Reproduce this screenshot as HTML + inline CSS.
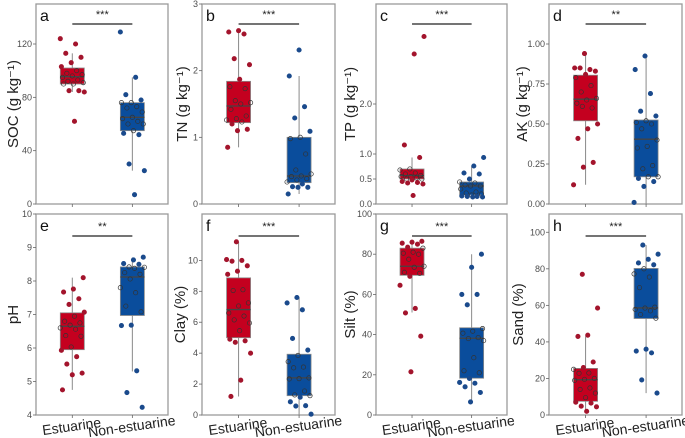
<!DOCTYPE html>
<html><head><meta charset="utf-8"><style>
html,body{margin:0;padding:0;background:#fff}
svg{display:block;font-family:"Liberation Sans",sans-serif}
</style></head><body>
<svg id="chart" width="685" height="438" viewBox="0 0 685 438" xmlns="http://www.w3.org/2000/svg"></svg>
<script>
const categories = ["Estuarine","Non-estuarine"];
const panelLetters = ["a","b","c","d","e","f","g","h"];
const yTitles = ["SOC (g kg⁻¹)","TN (g kg⁻¹)","TP (g kg⁻¹)","AK (g kg⁻¹)","pH","Clay (%)","Silt (%)","Sand (%)"];
const significance = ["***","***","***","**","**","***","***","***"];
const yTicks = [[0,40,80,120],[0,1,2,3],[0,0.5,1,2],[0,0.25,0.5,0.75,1],[4,5,6,7,8,9,10],[0,2,4,6,8,10],[0,20,40,60,80,100],[0,20,40,60,80,100]];
const yTickLabels = [["0","40","80","120"],["0","1","2","3"],["0.0","0.5","1.0","2.0"],["0.00","0.25","0.50","0.75","1.00"],["4","5","6","7","8","9","10"],["0","2","4","6","8","10"],["0","20","40","60","80","100"],["0","20","40","60","80","100"]];
const yDomains = [[0,150],[0,3],[0,4],[0,1.25],[4,10],[0,13],[0,100],[0,110]];
// box stats: [lo, q1, median, q3, hi]
const estBox = [[84,90,95.5,102,113],[0.85,1.22,1.47,1.84,2.58],[0.45,0.5,0.57,0.7,0.93],[0.12,0.52,0.655,0.805,0.94],[4.75,5.95,6.65,7.05,8.1],[1.2,5.0,6.82,8.87,11.2],[51,69.5,74,83,86.5],[2,7.5,19.3,25.5,43]];
const nonBox = [[25,55,65,76,95],[0.15,0.32,0.42,1.0,1.92],[0.13,0.18,0.36,0.44,0.75],[0,0.17,0.405,0.525,0.925],[5.3,6.97,8.12,8.42,8.7],[0,1.25,2.4,3.93,7.6],[6.5,18.3,38.2,43.4,80],[12,52.8,58.6,80.2,93]];
const estPoints = [
 [124,120,113,110,106,103,100,98,97,96,95,93,92,91,90,90,85,85,84,62],
 [2.6,2.58,2.55,2.18,2.09,1.87,1.76,1.73,1.55,1.52,1.5,1.42,1.32,1.28,1.26,1.23,1.2,1.12,1.1,0.85],
 [3.35,3.0,1.18,0.93,0.7,0.68,0.62,0.6,0.57,0.55,0.55,0.52,0.5,0.5,0.48,0.45,0.43,0.42,0.4,0.17],
 [0.94,0.85,0.84,0.85,0.83,0.81,0.79,0.74,0.7,0.66,0.65,0.63,0.6,0.61,0.5,0.47,0.41,0.26,0.23,0.12],
 [8.1,7.76,7.67,7.47,7.3,7.07,6.95,6.8,6.75,6.68,6.6,6.56,6.37,6.35,6.03,5.93,5.74,5.52,5.25,5.2,4.75],
 [11.2,10.05,10.0,9.95,9.65,9.3,9.1,8.1,8.05,7.25,7.05,6.6,6.4,6.15,5.95,5.45,4.9,4.8,4.7,4.0,2.25,1.2],
 [86.4,86,85.5,85,83.5,83,81,80.5,80,77.5,74,73.5,71,70.5,69,64.5,53,50.8,39.2,21.5],
 [77,58.5,43.7,43,29,26,25,23,22.8,20,19.5,19,14.8,14,12,9.5,7,6.5,4.8,4.5,2]
];
const nonPoints = [
 [129,95,82,78,76,76,73,72,69,65,64,62,60,60,55,53,52,30,25,7],
 [2.31,1.92,1.46,1.29,1.09,1.0,0.98,0.75,0.51,0.45,0.42,0.41,0.38,0.36,0.33,0.3,0.26,0.25,0.25,0.15],
 [0.93,0.76,0.62,0.6,0.5,0.44,0.42,0.38,0.36,0.36,0.3,0.24,0.22,0.2,0.18,0.16,0.15,0.15,0.14,0.14],
 [0.925,0.84,0.69,0.58,0.55,0.52,0.51,0.5,0.47,0.40,0.36,0.35,0.24,0.22,0.17,0.17,0.16,0.14,0.11,0.01],
 [8.71,8.63,8.52,8.5,8.42,8.41,8.38,8.25,8.2,8.06,7.8,7.65,7.25,7.08,6.68,6.67,5.32,4.67,4.23],
 [7.6,7.25,6.8,4.95,4.2,3.85,3.45,3.1,3.05,2.4,2.35,2.33,1.55,1.3,1.25,1.15,0.85,0.6,0.58,0.05],
 [80,73.5,60,60,54.8,43,41.7,40.7,38.5,38,37,28.5,22,21,18.2,16.2,15.8,14,11.2,6.5],
 [93,88,85.2,83.2,82.2,80,77.2,75.5,69.7,59,58.5,57.8,57,55,53,36,35,34,19.2,12]
];

const NS="http://www.w3.org/2000/svg";
const svg=document.getElementById('chart');
function mk(tag,attrs,parent){const e=document.createElementNS(NS,tag);for(const k in attrs)e.setAttribute(k,attrs[k]);(parent||svg).appendChild(e);return e;}
const frames=[[36,168,4,204],[202,335,4,204],[376,507,4,204],[549,682,4,204],[36,168,214,415],[202,335,214,415],[376,507,214,415],[549,682,214,415]];
const titleX=[13,182,350,522,13,180,350,518];
const colors=[{box:"#c4001f",pt:"#a3142c"},{box:"#0a4d9c",pt:"#1a4a8c"}];
for(let p=0;p<8;p++){
  const [x0,x1,y0,y1]=frames[p];
  const g=mk('g',{});
  
  
  const [d0,d1]=yDomains[p];
  const ys=v=>y1-(v-d0)/(d1-d0)*(y1-y0);
  const w=x1-x0;
  const xs=i=>x0+w*(i===0?0.275:0.73);
  const fr=mk('rect',{x:x0,y:y0,width:w,height:y1-y0,fill:'none',stroke:'#9a9a9a','stroke-width':1.3},g);
  
  
  yTicks[p].forEach((t,k)=>{
    const y=ys(t);
    mk('line',{x1:x0-3,x2:x0,y1:y,y2:y,stroke:'#666','stroke-width':0.8},g);
    const tl=mk('text',{x:x0-4,y:y+3,'text-anchor':'end','font-size':9,fill:'#4d4d4d'},g);
    tl.textContent=yTickLabels[p][k];
    
    
  });
  const yt=mk('text',{x:0,y:0,'text-anchor':'middle','font-size':15,fill:'#222',transform:`translate(${titleX[p]+5},${(y0+y1)/2}) rotate(-90)`},g);
  yt.textContent=yTitles[p];
  
  
  const lt=mk('text',{x:x0+4,y:y0+17,'font-size':16,fill:'#111'},g);
  lt.textContent=panelLetters[p];
  
  
  categories.forEach((c,i)=>{
    mk('line',{x1:xs(i),x2:xs(i),y1:y1,y2:y1+3,stroke:'#666','stroke-width':0.8},g);
    if(p>=4){
      const xl=mk('text',{x:0,y:0,'text-anchor':'middle','font-size':14,fill:'#222',transform:`translate(${xs(i)},${y1+16}) rotate(-8)`},g);
      xl.textContent=c;
      
      
    }
  });
  const sy=y0+(p<4?20:22);
  const sl=mk('line',{x1:xs(0),x2:xs(1),y1:sy,y2:sy,stroke:'#222','stroke-width':1.2},g);
  
  
  const st=mk('text',{x:(xs(0)+xs(1))/2,y:sy-6,'text-anchor':'middle','font-size':11,fill:'#222'},g);
  st.textContent=significance[p];
  
  
  [estBox[p],nonBox[p]].forEach((b,i)=>{
    const cx=xs(i),bw=12;
    const wl=mk('line',{x1:cx,x2:cx,y1:ys(b[0]),y2:ys(b[4]),stroke:'#8a8a8a','stroke-width':1},g);
    
    
    const r=mk('rect',{x:cx-bw,y:ys(b[3]),width:bw*2,height:ys(b[1])-ys(b[3]),fill:colors[i].box,stroke:'#8a8a8a','stroke-width':0.8},g);
    
    
    const m=mk('line',{x1:cx-bw,x2:cx+bw,y1:ys(b[2]),y2:ys(b[2]),stroke:'#444','stroke-width':1.3},g);
    
    
  });
  [estPoints[p],nonPoints[p]].forEach((pts,i)=>{
    const b=i===0?estBox[p]:nonBox[p];
    pts.forEach((v,k)=>{
      const jit=(((k*37+p*11)%23)-11)/11*12;
      const inBox=v>=b[1]&&v<=b[3];
      const c=mk('circle',{cx:xs(i)+jit,cy:ys(v),r:2.2,fill:inBox?'none':colors[i].pt,stroke:inBox?'#333':colors[i].pt,'stroke-width':0.7},g);
      
      
    });
  });
}
</script>
</body></html>
